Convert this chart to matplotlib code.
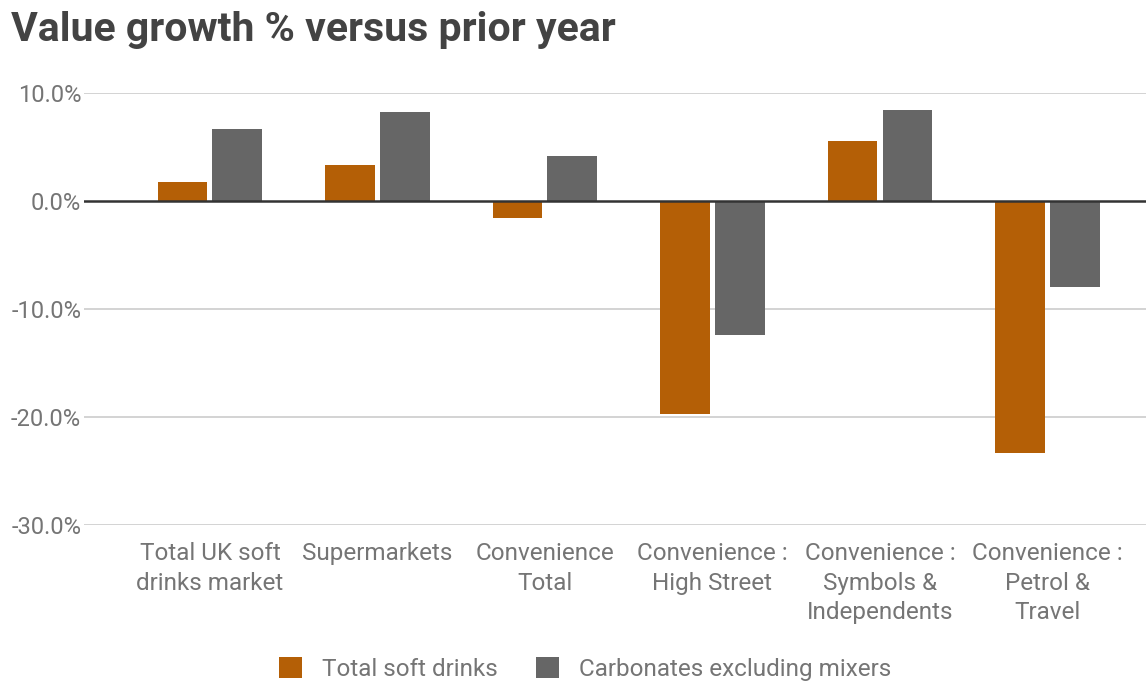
import numpy as np
from matplotlib import pyplot as plt

plt.rcParams['font.family'] = ['Roboto', 'DejaVu Sans']

categories = ['Total UK soft\ndrinks market', 'Supermarkets', 'Convenience\nTotal',
              'Convenience :\nHigh Street', 'Convenience :\nSymbols &\nIndependents',
              'Convenience :\nPetrol &\nTravel']
total_soft_drinks = [1.8, 3.3, -1.6, -19.7, 5.6, -23.3]
carbonates_ex_mixers = [6.7, 8.2, 4.2, -12.4, 8.4, -8.0]
yticks = [10, 0, -10, -20, -30]

orange = '#b45f06'
grey = '#666666'
text_col = '#757575'

fig = plt.figure(figsize=(11.46, 6.82), dpi=100)
ax = fig.add_axes([84/1146, 157/682, 1 - 84/1146, 432/682])

x = np.arange(len(categories))
w = 0.298
ax.bar(x - 0.164, total_soft_drinks, w, color=orange, label='Total soft drinks', zorder=3)
ax.bar(x + 0.164, carbonates_ex_mixers, w, color=grey, label='Carbonates excluding mixers', zorder=3)

ax.set_xlim(-0.752, 5.588)
ax.set_ylim(-30, 10)
ax.set_yticks(yticks)
ax.set_yticklabels(['%.1f%%' % v for v in yticks], color=text_col, fontsize=17)
ax.set_xticks(x)
ax.set_xticklabels(categories, color=text_col, fontsize=17.5, linespacing=1.38)
ax.tick_params(length=0)
ax.tick_params(axis='x', pad=12)
ax.tick_params(axis='y', pad=2)

for v in yticks:
    if v != 0:
        ax.axhline(v, color='#cccccc', lw=1.2, zorder=1)
ax.axhline(0, color='#333333', lw=1.8, zorder=4)

for s in ax.spines.values():
    s.set_visible(False)

fig.text(11/1146, 1 - 30/682, 'Value growth % versus prior year', fontsize=29.5,
         fontweight='bold', color='#434343', va='center', ha='left')

leg = fig.legend(loc='center', bbox_to_anchor=(585/1146, 1 - 669/682), ncol=2, frameon=False,
                 fontsize=17.5, handlelength=0.95, handleheight=0.95, handletextpad=0.8,
                 columnspacing=1.6)
for t in leg.get_texts():
    t.set_color(text_col)

fig.savefig('out.png', dpi=100)
